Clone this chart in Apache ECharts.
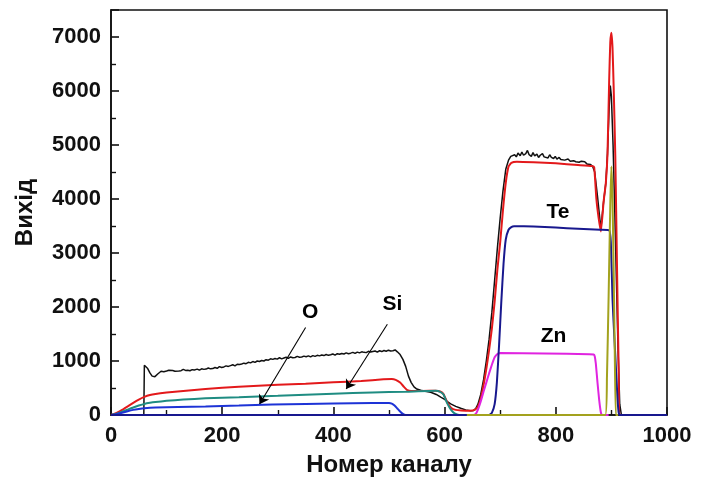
<!DOCTYPE html>
<html>
<head>
<meta charset="utf-8">
<script src="https://cdn.jsdelivr.net/npm/echarts@6/dist/echarts.min.js"></script>
<style>
  html, body { margin: 0; padding: 0; background: #fff; }
  #chart { width: 710px; height: 482px; }
</style>
</head>
<body>
<div id="chart"></div>
<script>
// RBS spectrum: measured yield and simulated partial contributions per element.

// Measured spectrum (channel, yield)
const expChannel = [0, 59, 60, 63, 66, 70, 74, 79, 84, 90, 95,
  100, 104, 107, 111, 115, 118, 122, 126, 130, 134, 138, 142, 146, 150, 155, 159, 163, 167, 171, 175,
  179, 183, 187, 191, 195, 199, 203, 207, 211, 215, 219, 223, 227, 231, 235, 239, 243, 247, 251, 255,
  259, 263, 267, 271, 275, 279, 283, 287, 291, 295, 299, 303, 307, 311, 315, 319, 323, 327, 331, 335,
  339, 343, 347, 351, 355, 359, 363, 367, 371, 375, 379, 383, 387, 391, 395, 399, 403, 407, 411, 415,
  419, 423, 427, 431, 435, 439, 443, 447, 451, 455, 459, 463, 467, 471, 475, 479, 483, 487, 491, 495,
  499, 503, 507, 511, 515, 520, 525, 530, 535, 540, 545, 550, 557, 565, 575, 585, 593, 600, 605, 611,
  620, 629, 638, 647, 652, 656, 660, 665, 670, 675, 680, 685, 690, 695, 700, 705, 710, 715, 719, 722,
  726, 729, 732, 736, 739, 742, 746, 749, 752, 756, 759, 762, 766, 769, 772, 776, 779, 782, 786, 789,
  792, 796, 799, 802, 806, 809, 812, 816, 819, 822, 826, 829, 832, 836, 839, 842, 846, 849, 852, 856,
  859, 862, 866, 870, 875, 881, 886, 890, 893, 896, 898, 900, 903, 906, 909, 912, 915, 918, 1000];
const expYield = [0, 0, 920, 900, 860, 780, 720, 710, 760, 810, 800,
  815, 830, 800, 825, 810, 835, 815, 820, 845, 825, 830, 820, 840, 835, 850, 830, 855, 845, 850, 870,
  855, 860, 880, 865, 895, 880, 890, 910, 900, 915, 930, 910, 940, 935, 945, 960, 950, 975, 965, 990,
  975, 1000, 990, 1010, 1000, 1025, 1015, 1040, 1030, 1045, 1035, 1060, 1040, 1055, 1070, 1050, 1075, 1060, 1065, 1085,
  1070, 1075, 1090, 1080, 1095, 1075, 1100, 1085, 1105, 1095, 1110, 1100, 1120, 1105, 1115, 1130, 1110, 1135, 1125, 1140,
  1130, 1150, 1135, 1145, 1160, 1140, 1165, 1150, 1170, 1160, 1155, 1180, 1165, 1175, 1185, 1165, 1190, 1175, 1195, 1180,
  1200, 1185, 1190, 1205, 1170, 1120, 1030, 900, 720, 600, 520, 480, 460, 440, 420, 380, 330, 290, 250, 205,
  160, 125, 95, 80, 85, 120, 200, 380, 650, 1000, 1400, 1900, 2500, 3100, 3650, 4150, 4550, 4720, 4790, 4760,
  4820, 4780, 4850, 4800, 4870, 4810, 4840, 4900, 4820, 4790, 4860, 4800, 4830, 4770, 4810, 4840, 4780, 4800, 4760, 4820,
  4770, 4750, 4790, 4740, 4770, 4730, 4760, 4720, 4750, 4740, 4700, 4730, 4710, 4690, 4720, 4680, 4700, 4670, 4690, 4650,
  4680, 4640, 4610, 4500, 4050, 3450, 3950, 4300, 4850, 5700, 6100, 5900, 5000, 3800, 2500, 1200, 200, 0, 0];

// Simulated total spectrum
const simChannel = [0, 10, 20, 30, 40, 50, 60, 70, 80, 100, 130, 170, 230, 300, 350, 400, 450, 490, 505,
  512, 520, 527, 533, 540, 560, 584, 592, 598, 605, 612, 620, 630, 645, 655, 660, 665, 670, 675, 680,
  685, 690, 695, 700, 705, 710, 715, 720, 730, 760, 800, 840, 865, 869, 873, 877, 881, 886, 890, 893,
  896, 898, 900, 902, 904, 907, 910, 913, 916, 1000];
const simYield = [0, 40, 95, 160, 225, 285, 335, 370, 390, 415, 445, 480, 525, 560, 580, 605, 630, 660, 665,
  650, 600, 520, 460, 445, 445, 450, 435, 390, 230, 130, 95, 85, 80, 100, 160, 300, 550, 850, 1200,
  1600, 2100, 2700, 3200, 3800, 4300, 4600, 4670, 4690, 4680, 4660, 4630, 4610, 4590, 4000, 3650, 3400, 3950, 4300, 4840,
  6200, 6900, 7080, 6800, 6100, 4800, 2800, 900, 0, 0];

// Si partial spectrum
const siChannel = [0, 10, 20, 30, 40, 50, 60, 70, 80, 100, 130, 170, 230, 300, 350, 400, 470, 530,
  584, 592, 598, 605, 612, 618, 626, 640];
const siYield = [0, 25, 60, 100, 140, 175, 205, 225, 240, 262, 285, 310, 330, 355, 375, 395, 418, 432,
  448, 430, 380, 210, 90, 30, 0, 0];

// O partial spectrum
const oChannel = [0, 10, 20, 30, 40, 50, 60, 80, 120, 170, 230, 290, 350, 400, 470, 500, 505, 510,
  515, 520, 525, 530, 680];
const oYield = [0, 15, 40, 70, 95, 112, 125, 138, 150, 158, 175, 195, 205, 212, 220, 222, 212, 175,
  120, 65, 20, 0, 0];

// Te partial spectrum
const teChannel = [0, 680, 685, 690, 694, 698, 702, 706, 710, 715, 720, 725, 760, 800, 840, 880, 896,
  899, 902, 905, 908, 911, 913, 915, 1000];
const teYield = [0, 0, 40, 200, 600, 1300, 2100, 2800, 3250, 3430, 3480, 3495, 3490, 3470, 3450, 3430, 3420,
  3200, 2150, 1500, 900, 300, 50, 0, 0];

// Zn partial spectrum
const znChannel = [640, 652, 656, 660, 665, 670, 675, 680, 685, 690, 695, 700, 780, 860, 868, 870, 872,
  875, 878, 881, 883, 895];
const znYield = [0, 0, 20, 100, 250, 430, 600, 770, 930, 1070, 1130, 1150, 1140, 1125, 1120, 1090, 950,
  600, 280, 50, 0, 0];

// Surface heavy-element peak
const peakChannel = [640, 889, 892, 895, 898, 900, 902, 904, 906, 908, 912];
const peakYield = [0, 0, 700, 2200, 3900, 4600, 4000, 2700, 1200, 0, 0];

// Element labels and arrows (channel, yield)
const labelNames = ['O', 'Si', 'Te', 'Zn'];
const labelChannel = [358, 506, 804, 796];
const labelYield = [1900, 2045, 3760, 1455];
const arrowFrom = [[350, 1620], [497, 1680]];
const arrowTo = [[267, 200], [423, 480]];

const pairs = (xs, ys) => xs.map((x, i) => [x, ys[i]]);
const FONT = '"Liberation Sans", Arial, sans-serif';

const chart = echarts.init(document.getElementById('chart'), null, { renderer: 'canvas' });

function line(name, xs, ys, color, width, z, extra) {
  return Object.assign({
    name, type: 'line', data: pairs(xs, ys), showSymbol: false,
    lineStyle: { color, width }, itemStyle: { color }, z, animation: false
  }, extra || {});
}

const series = [
  line('Експеримент', expChannel, expYield, '#111111', 1.5, 2),
  line('Моделювання', simChannel, simYield, '#e3191b', 2, 3, { smooth: 0.15 }),
  line('Si', siChannel, siYield, '#1f8c82', 2, 4, { smooth: 0.15 }),
  line('O', oChannel, oYield, '#1d33d6', 2, 5, { smooth: 0.15 }),
  line('Zn', znChannel, znYield, '#e024e0', 2, 6, { smooth: 0.15 }),
  line('Te', teChannel, teYield, '#18188e', 2, 7, { smooth: 0.15 }),
  line('peak', peakChannel, peakYield, '#a3a21e', 2, 8, { smooth: 0.15 }),
  {
    name: 'labels', type: 'scatter', data: [], z: 10, silent: true,
    markPoint: {
      symbol: 'circle', symbolSize: 0, silent: true,
      label: {
        show: true, color: '#000', fontFamily: FONT, fontWeight: 'bold', fontSize: 21,
        formatter: p => p.name
      },
      data: labelNames.map((n, i) => ({ name: n, coord: [labelChannel[i], labelYield[i]] }))
    },
    markLine: {
      silent: true, symbol: ['none', 'arrow'], symbolSize: 9,
      lineStyle: { color: '#000', width: 1.1, type: 'solid' },
      label: { show: false },
      data: arrowFrom.map((f, i) => [{ coord: f }, { coord: arrowTo[i] }])
    }
  }
];

const axisFont = { fontFamily: FONT, fontWeight: 'bold', fontSize: 22, color: '#111' };

chart.setOption({
  backgroundColor: '#fff',
  animation: false,
  grid: {
    left: 111, right: 43, top: 10, bottom: 66,
    show: true, borderColor: '#111', borderWidth: 1.6, backgroundColor: 'transparent'
  },
  xAxis: {
    type: 'value', min: 0, max: 1000, interval: 200,
    name: 'Номер каналу', nameLocation: 'middle', nameGap: 38,
    nameTextStyle: { fontFamily: FONT, fontWeight: 'bold', fontSize: 24, color: '#111' },
    axisLine: { show: true, lineStyle: { color: '#111', width: 1.6 } },
    axisTick: { show: true, inside: true, length: 8, lineStyle: { color: '#111', width: 1.6 } },
    minorTick: { show: true, splitNumber: 2, length: 5, lineStyle: { color: '#111', width: 1.4 } },
    axisLabel: Object.assign({ margin: 10, formatter: v => String(v) }, axisFont),
    splitLine: { show: false }
  },
  yAxis: {
    type: 'value', min: 0, max: 7500, interval: 1000,
    name: 'Вихід', nameLocation: 'middle', nameGap: 74, nameRotate: 90,
    nameTextStyle: { fontFamily: FONT, fontWeight: 'bold', fontSize: 24, color: '#111' },
    axisLine: { show: true, lineStyle: { color: '#111', width: 1.6 } },
    axisTick: { show: true, inside: true, length: 8, lineStyle: { color: '#111', width: 1.6 } },
    minorTick: { show: true, splitNumber: 2, length: 5, lineStyle: { color: '#111', width: 1.4 } },
    axisLabel: Object.assign({ margin: 10, showMaxLabel: false, formatter: v => String(v) }, axisFont),
    splitLine: { show: false }
  },
  series
});
</script>
</body>
</html>
